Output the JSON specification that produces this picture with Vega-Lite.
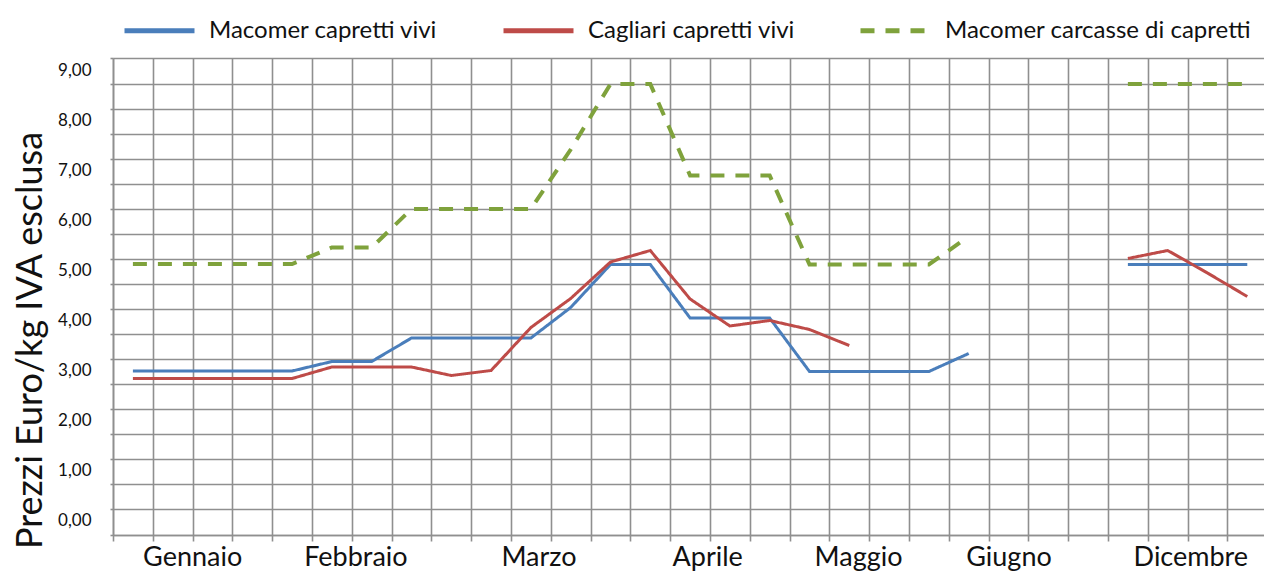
{
  "$schema": "https://vega.github.io/schema/vega-lite/v6.json",
  "autosize": "none",
  "width": 1151,
  "height": 477,
  "padding": {"left": 113, "top": 58, "right": 0, "bottom": 39},
  "background": "white",
  "config": {
    "view": {"stroke": null},
    "font": "Lato",
    "axis": {"gridColor": "#8f8f8f", "gridWidth": 1.6, "gridOpacity": 1, "domainColor": "#8f8f8f", "domainWidth": 1.6, "tickColor": "#8f8f8f", "tickWidth": 1.6}
  },
  "data": {
    "values": [
      {"serie": "Macomer capretti vivi", "settimana": 0, "prezzo": 2.99},
      {"serie": "Macomer capretti vivi", "settimana": 1, "prezzo": 2.99},
      {"serie": "Macomer capretti vivi", "settimana": 2, "prezzo": 2.99},
      {"serie": "Macomer capretti vivi", "settimana": 3, "prezzo": 2.99},
      {"serie": "Macomer capretti vivi", "settimana": 4, "prezzo": 2.99},
      {"serie": "Macomer capretti vivi", "settimana": 5, "prezzo": 3.18},
      {"serie": "Macomer capretti vivi", "settimana": 6, "prezzo": 3.18},
      {"serie": "Macomer capretti vivi", "settimana": 7, "prezzo": 3.65},
      {"serie": "Macomer capretti vivi", "settimana": 8, "prezzo": 3.65},
      {"serie": "Macomer capretti vivi", "settimana": 9, "prezzo": 3.65},
      {"serie": "Macomer capretti vivi", "settimana": 10, "prezzo": 3.65},
      {"serie": "Macomer capretti vivi", "settimana": 11, "prezzo": 4.26},
      {"serie": "Macomer capretti vivi", "settimana": 12, "prezzo": 5.12},
      {"serie": "Macomer capretti vivi", "settimana": 13, "prezzo": 5.12},
      {"serie": "Macomer capretti vivi", "settimana": 14, "prezzo": 4.05},
      {"serie": "Macomer capretti vivi", "settimana": 15, "prezzo": 4.05},
      {"serie": "Macomer capretti vivi", "settimana": 16, "prezzo": 4.05},
      {"serie": "Macomer capretti vivi", "settimana": 17, "prezzo": 2.98},
      {"serie": "Macomer capretti vivi", "settimana": 18, "prezzo": 2.98},
      {"serie": "Macomer capretti vivi", "settimana": 19, "prezzo": 2.98},
      {"serie": "Macomer capretti vivi", "settimana": 20, "prezzo": 2.98},
      {"serie": "Macomer capretti vivi", "settimana": 21, "prezzo": 3.34},
      {"serie": "Macomer capretti vivi", "settimana": 22, "prezzo": null},
      {"serie": "Macomer capretti vivi", "settimana": 23, "prezzo": null},
      {"serie": "Macomer capretti vivi", "settimana": 24, "prezzo": null},
      {"serie": "Macomer capretti vivi", "settimana": 25, "prezzo": 5.12},
      {"serie": "Macomer capretti vivi", "settimana": 26, "prezzo": 5.12},
      {"serie": "Macomer capretti vivi", "settimana": 27, "prezzo": 5.12},
      {"serie": "Macomer capretti vivi", "settimana": 28, "prezzo": 5.12},
      {"serie": "Cagliari capretti vivi", "settimana": 0, "prezzo": 2.84},
      {"serie": "Cagliari capretti vivi", "settimana": 1, "prezzo": 2.84},
      {"serie": "Cagliari capretti vivi", "settimana": 2, "prezzo": 2.84},
      {"serie": "Cagliari capretti vivi", "settimana": 3, "prezzo": 2.84},
      {"serie": "Cagliari capretti vivi", "settimana": 4, "prezzo": 2.84},
      {"serie": "Cagliari capretti vivi", "settimana": 5, "prezzo": 3.07},
      {"serie": "Cagliari capretti vivi", "settimana": 6, "prezzo": 3.07},
      {"serie": "Cagliari capretti vivi", "settimana": 7, "prezzo": 3.07},
      {"serie": "Cagliari capretti vivi", "settimana": 8, "prezzo": 2.9},
      {"serie": "Cagliari capretti vivi", "settimana": 9, "prezzo": 3.0},
      {"serie": "Cagliari capretti vivi", "settimana": 10, "prezzo": 3.86},
      {"serie": "Cagliari capretti vivi", "settimana": 11, "prezzo": 4.44},
      {"serie": "Cagliari capretti vivi", "settimana": 12, "prezzo": 5.17},
      {"serie": "Cagliari capretti vivi", "settimana": 13, "prezzo": 5.4},
      {"serie": "Cagliari capretti vivi", "settimana": 14, "prezzo": 4.43},
      {"serie": "Cagliari capretti vivi", "settimana": 15, "prezzo": 3.89},
      {"serie": "Cagliari capretti vivi", "settimana": 16, "prezzo": 4.0},
      {"serie": "Cagliari capretti vivi", "settimana": 17, "prezzo": 3.82},
      {"serie": "Cagliari capretti vivi", "settimana": 18, "prezzo": 3.5},
      {"serie": "Cagliari capretti vivi", "settimana": 19, "prezzo": null},
      {"serie": "Cagliari capretti vivi", "settimana": 20, "prezzo": null},
      {"serie": "Cagliari capretti vivi", "settimana": 21, "prezzo": null},
      {"serie": "Cagliari capretti vivi", "settimana": 22, "prezzo": null},
      {"serie": "Cagliari capretti vivi", "settimana": 23, "prezzo": null},
      {"serie": "Cagliari capretti vivi", "settimana": 24, "prezzo": null},
      {"serie": "Cagliari capretti vivi", "settimana": 25, "prezzo": 5.24},
      {"serie": "Cagliari capretti vivi", "settimana": 26, "prezzo": 5.4},
      {"serie": "Cagliari capretti vivi", "settimana": 27, "prezzo": 4.95},
      {"serie": "Cagliari capretti vivi", "settimana": 28, "prezzo": 4.48},
      {"serie": "Macomer carcasse di capretti", "settimana": 0, "prezzo": 5.13},
      {"serie": "Macomer carcasse di capretti", "settimana": 1, "prezzo": 5.13},
      {"serie": "Macomer carcasse di capretti", "settimana": 2, "prezzo": 5.13},
      {"serie": "Macomer carcasse di capretti", "settimana": 3, "prezzo": 5.13},
      {"serie": "Macomer carcasse di capretti", "settimana": 4, "prezzo": 5.13},
      {"serie": "Macomer carcasse di capretti", "settimana": 5, "prezzo": 5.46},
      {"serie": "Macomer carcasse di capretti", "settimana": 6, "prezzo": 5.46},
      {"serie": "Macomer carcasse di capretti", "settimana": 7, "prezzo": 6.23},
      {"serie": "Macomer carcasse di capretti", "settimana": 8, "prezzo": 6.23},
      {"serie": "Macomer carcasse di capretti", "settimana": 9, "prezzo": 6.23},
      {"serie": "Macomer carcasse di capretti", "settimana": 10, "prezzo": 6.23},
      {"serie": "Macomer carcasse di capretti", "settimana": 11, "prezzo": 7.42},
      {"serie": "Macomer carcasse di capretti", "settimana": 12, "prezzo": 8.73},
      {"serie": "Macomer carcasse di capretti", "settimana": 13, "prezzo": 8.73},
      {"serie": "Macomer carcasse di capretti", "settimana": 14, "prezzo": 6.9},
      {"serie": "Macomer carcasse di capretti", "settimana": 15, "prezzo": 6.9},
      {"serie": "Macomer carcasse di capretti", "settimana": 16, "prezzo": 6.9},
      {"serie": "Macomer carcasse di capretti", "settimana": 17, "prezzo": 5.12},
      {"serie": "Macomer carcasse di capretti", "settimana": 18, "prezzo": 5.12},
      {"serie": "Macomer carcasse di capretti", "settimana": 19, "prezzo": 5.12},
      {"serie": "Macomer carcasse di capretti", "settimana": 20, "prezzo": 5.12},
      {"serie": "Macomer carcasse di capretti", "settimana": 21, "prezzo": 5.68},
      {"serie": "Macomer carcasse di capretti", "settimana": 22, "prezzo": null},
      {"serie": "Macomer carcasse di capretti", "settimana": 23, "prezzo": null},
      {"serie": "Macomer carcasse di capretti", "settimana": 24, "prezzo": null},
      {"serie": "Macomer carcasse di capretti", "settimana": 25, "prezzo": 8.73},
      {"serie": "Macomer carcasse di capretti", "settimana": 26, "prezzo": 8.73},
      {"serie": "Macomer carcasse di capretti", "settimana": 27, "prezzo": 8.73},
      {"serie": "Macomer carcasse di capretti", "settimana": 28, "prezzo": 8.73}
    ]
  },
  "encoding": {
    "color": {
      "field": "serie", "type": "nominal",
      "scale": {"domain": ["Macomer capretti vivi", "Cagliari capretti vivi", "Macomer carcasse di capretti"], "range": ["#4a7ebb", "#be4b48", "#7fa23c"]},
      "legend": {"orient": "none", "legendX": 9, "legendY": -65, "direction": "horizontal", "title": null, "symbolType": "stroke", "symbolSize": 4900, "symbolStrokeWidth": 5, "labelFontSize": 24, "labelColor": "#111", "labelOffset": 12, "columnPadding": 55, "padding": 0, "labelLimit": 400}
    },
    "strokeDash": {
      "field": "serie", "type": "nominal",
      "scale": {"domain": ["Macomer capretti vivi", "Cagliari capretti vivi", "Macomer carcasse di capretti"], "range": [[1, 0], [1, 0], [14, 11]]},
      "legend": {"orient": "none", "legendX": 9, "legendY": -65, "direction": "horizontal", "title": null, "symbolType": "stroke", "symbolSize": 4900, "symbolStrokeWidth": 5, "labelFontSize": 24, "labelColor": "#111", "labelOffset": 12, "columnPadding": 55, "padding": 0, "labelLimit": 400}
    }
  },
  "layer": [
    {
      "transform": [{"filter": "datum.serie !== 'Macomer carcasse di capretti'"}],
      "mark": {"type": "line", "strokeWidth": 3, "invalid": "break-paths-show-domains"},
      "encoding": {
        "x": {"field": "settimana", "type": "quantitative", "scale": {"domain": [-0.5, 28.42], "nice": false, "zero": false},
          "axis": {"orient": "bottom", "title": null, "labels": false, "grid": true, "ticks": true, "tickSize": 6, "domain": true,
            "values": [-0.5, 0.5, 1.5, 2.5, 3.5, 4.5, 5.5, 6.5, 7.5, 8.5, 9.5, 10.5, 11.5, 12.5, 13.5, 14.5, 15.5, 16.5, 17.5, 18.5, 19.5, 20.5, 21.5, 22.5, 23.5, 24.5, 25.5, 26.5, 27.5]}},
        "y": {"field": "prezzo", "type": "quantitative", "scale": {"domain": [-0.29, 9.25], "nice": false, "zero": false},
          "axis": {"orient": "left", "title": null, "labels": false, "grid": true, "ticks": true, "tickSize": 3, "domain": true,
            "values": [-0.29, 0.23, 0.73, 1.23, 1.73, 2.23, 2.73, 3.23, 3.73, 4.23, 4.73, 5.23, 5.73, 6.23, 6.73, 7.23, 7.73, 8.23, 8.73, 9.25]}}
      }
    },
    {
      "transform": [{"filter": "datum.serie === 'Macomer carcasse di capretti'"}],
      "mark": {"type": "line", "strokeWidth": 4, "invalid": "break-paths-show-domains"},
      "encoding": {
        "x": {"field": "settimana", "type": "quantitative",
          "axis": {"orient": "bottom", "title": null, "grid": false, "ticks": false, "domain": false, "labelFontSize": 27, "labelColor": "#111", "labelPadding": 9, "labelBaseline": "top",
            "values": [1.49, 5.59, 10.19, 14.43, 18.22, 22.0, 26.57],
            "labelExpr": "datum.value < 3 ? 'Gennaio' : datum.value < 8 ? 'Febbraio' : datum.value < 12 ? 'Marzo' : datum.value < 16 ? 'Aprile' : datum.value < 20 ? 'Maggio' : datum.value < 24 ? 'Giugno' : 'Dicembre'"}},
        "y": {"field": "prezzo", "type": "quantitative",
          "axis": {"orient": "left", "title": "Prezzi Euro/kg IVA esclusa", "titleFontSize": 36, "titleFontWeight": "normal", "titleColor": "#111", "titleX": -83, "titleY": 282, "titleAngle": -90, "titleBaseline": "middle", "titleAlign": "center",
            "grid": false, "ticks": false, "domain": false, "labelFontSize": 17, "labelColor": "#111", "labelPadding": 22,
            "values": [0, 1, 2, 3, 4, 5, 6, 7, 8, 9],
            "labelExpr": "replace(format(datum.value, '.2f'), '.', ',')"}}
      }
    }
  ],
  "resolve": {"scale": {"x": "shared", "y": "shared", "color": "shared", "strokeDash": "shared"}, "axis": {"x": "independent", "y": "independent"}}
}
